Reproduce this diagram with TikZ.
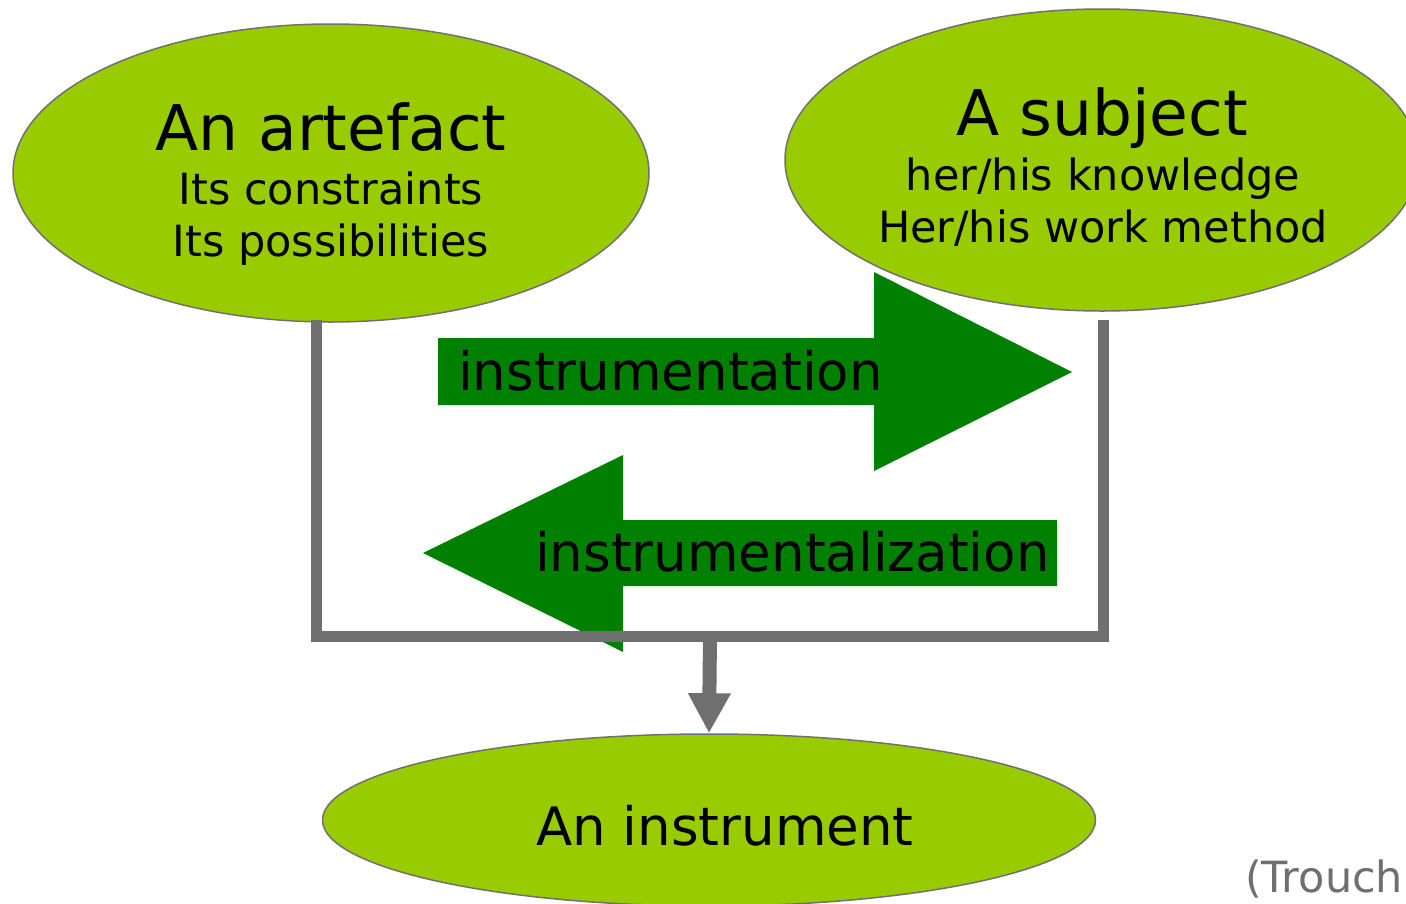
\documentclass[tikz,border=0pt]{standalone}
\usepackage{fontspec}
\setmainfont{DejaVu Sans}
\usetikzlibrary{shapes.geometric,arrows.meta}
\definecolor{lightgreen}{HTML}{99CC00}
\definecolor{darkgreen}{HTML}{008000}
\definecolor{bargray}{HTML}{6F6F6F}
\definecolor{rimgray}{HTML}{707070}
\tikzset{
  blob/.style={ellipse, fill=lightgreen, draw=rimgray, line width=1.5pt, inner sep=0pt},
  big/.style={anchor=base, inner sep=0pt, font=\fontsize{63}{63}\selectfont},
  mid/.style={anchor=base, inner sep=0pt, font=\fontsize{53}{53}\selectfont},
  small/.style={anchor=base, inner sep=0pt, font=\fontsize{43}{43}\selectfont},
  greenarrow/.style={fill=darkgreen},
  bar/.style={draw=bargray, line width=11pt, line join=miter},
}
\begin{document}
\begin{tikzpicture}[x=1pt,y=-1pt]
\useasboundingbox (0,0) rectangle (1406,903);
% ellipses
\node[blob, minimum width=636pt, minimum height=298pt] (a) at (331,173) {};
\node[blob, minimum width=634pt, minimum height=302pt] (b) at (1102,160) {};
\node[blob, minimum width=773pt, minimum height=172pt] (c) at (709,820) {};
% texts in ellipses
\node[big] (at1) at (331,150) {An artefact};
\node[small] (at2) at (331,204) {Its constraints};
\node[small] (at3) at (331,256) {Its possibilities};
\node[big] (bt1) at (1102,135) {A subject};
\node[small] (bt2) at (1103,190) {her/his knowledge};
\node[small] (bt3) at (1103,242) {Her/his work method};
\node[mid] (ct) at (725,845) {An instrument};
% green arrows
\fill[greenarrow] (438,338) -- (874,338) -- (874,272) -- (1072,372) -- (874,471) -- (874,405) -- (438,405) -- cycle;
\fill[greenarrow] (1057,520) -- (623,520) -- (623,455) -- (423,553) -- (623,652) -- (623,586) -- (1057,586) -- cycle;
\node[mid, anchor=base west] (instr) at (458,390) {instrumentation};
\node[mid, anchor=base west] (instl) at (535,571) {instrumentalization};
% gray bracket
\coordinate (L) at (316,320);
\coordinate (BL) at (316,636);
\coordinate (BR) at (1103,636);
\coordinate (R) at (1103,320);
\coordinate (M) at (710,636);
\draw[bar] (L) -- (BL) -- (BR) -- (R);
\draw[draw=bargray, line width=14pt, -{Triangle[width=40pt,length=40pt]}] (M) -- (c.north);
% citation
\node[small, anchor=base west, text=bargray] (cite) at (1245,892) {(Trouch};
\end{tikzpicture}
\end{document}
